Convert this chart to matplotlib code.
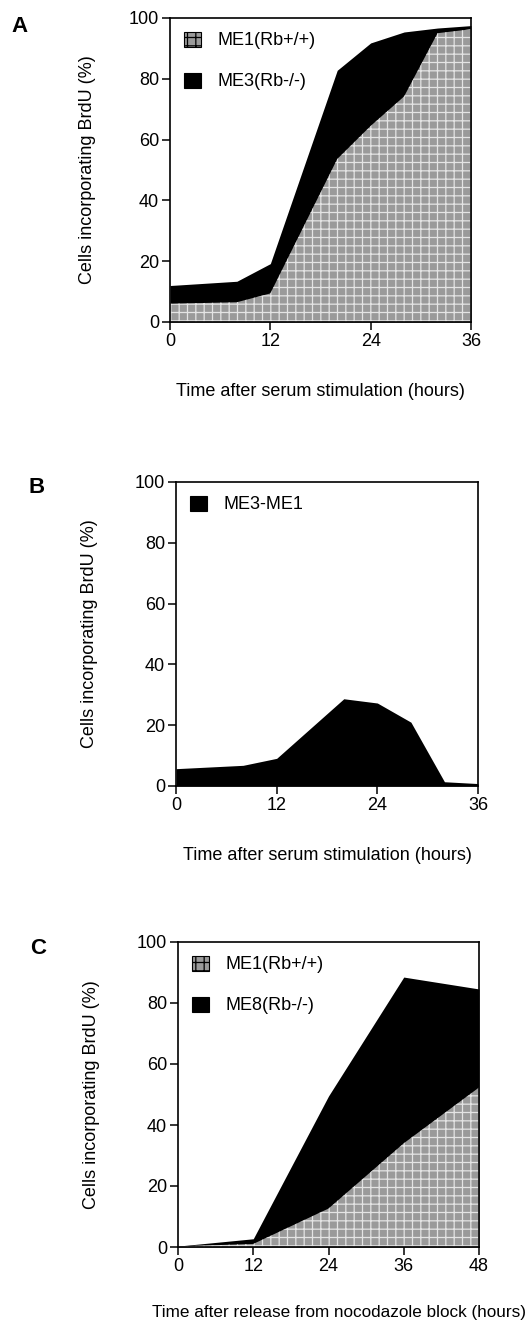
import matplotlib
matplotlib.use('Agg')
import matplotlib.pyplot as plt
from matplotlib.patches import Patch

plt.rcParams['font.family'] = ['Liberation Sans', 'DejaVu Sans']
plt.rcParams['hatch.color'] = '#e4e4e4'
plt.rcParams['hatch.linewidth'] = 0.9

# panel A / B: serum stimulation time course
hours_serum = [0, 8, 12, 20, 24, 28, 32, 36]
me1_serum = [6.0, 6.5, 9.4, 53.6, 64.5, 74.2, 95.0, 96.3]
me3_serum = [12.0, 13.4, 19.2, 82.8, 91.8, 95.4, 96.7, 97.5]
diff_serum = [5.7, 6.8, 9.1, 28.7, 27.3, 21.0, 1.4, 0.8]

# panel C: release from nocodazole block
hours_noc = [0, 12, 24, 36, 48]
me1_noc = [0.2, 1.0, 12.6, 34.0, 52.3]
me8_noc = [0.3, 2.7, 49.5, 88.5, 84.6]

GREY = '#9a9a9a'
HATCH = '++'
FS = 13

fig = plt.figure(figsize=(5.29, 13.33), dpi=100)
W, H = 529, 1333


def add_axes(left, top, right, bottom):
    return fig.add_axes([left / W, 1 - bottom / H, (right - left) / W, (bottom - top) / H])


def style(ax, xmax, xstep, ylab_x):
    ax.set_xlim(0, xmax)
    ax.set_ylim(0, 100)
    ax.set_xticks(range(0, xmax + 1, xstep))
    ax.set_yticks(range(0, 101, 20))
    ax.tick_params(direction='out', length=6, width=1.1, labelsize=FS, pad=2,
                   top=False, right=False)
    for s in ax.spines.values():
        s.set_linewidth(1.2)
    ax.set_ylabel('Cells incorporating BrdU (%)', fontsize=FS)
    ax.yaxis.set_label_coords(ylab_x, 0.5)


def grey_patch():
    return Patch(facecolor=GREY, hatch=HATCH, edgecolor='black', linewidth=0.8)


def black_patch():
    return Patch(facecolor='black', edgecolor='black', linewidth=0.8)


leg_kw = dict(loc='upper left', bbox_to_anchor=(0.0, 1.0), frameon=False, fontsize=FS,
              handlelength=0.95, handleheight=0.9, labelspacing=1.3,
              handletextpad=0.95, borderaxespad=0.0, borderpad=0.75)

# ---- A ----
axA = add_axes(170, 18, 471, 322)
axA.fill_between(hours_serum, 0, me3_serum, color='black', linewidth=0)
axA.fill_between(hours_serum, 0, me1_serum, facecolor=GREY, hatch=HATCH, linewidth=0)
style(axA, 36, 12, -0.245)
axA.legend([grey_patch(), black_patch()], ['ME1(Rb+/+)', 'ME3(Rb-/-)'], **leg_kw)
axA.text(0.5, -0.230, 'Time after serum stimulation (hours)', transform=axA.transAxes,
         ha='center', va='center', fontsize=FS)
fig.text(20 / W, 1 - 26 / H, 'A', fontsize=16, fontweight='bold', ha='center', va='center')

# ---- B ----
axB = add_axes(176, 482, 478, 786)
axB.fill_between(hours_serum, 0, diff_serum, color='black', linewidth=0)
style(axB, 36, 12, -0.258)
axB.legend([black_patch()], ['ME3-ME1'], **leg_kw)
axB.text(0.5, -0.230, 'Time after serum stimulation (hours)', transform=axB.transAxes,
         ha='center', va='center', fontsize=FS)
fig.text(37 / W, 1 - 487 / H, 'B', fontsize=16, fontweight='bold', ha='center', va='center')

# ---- C ----
axC = add_axes(178, 942, 479, 1247)
axC.fill_between(hours_noc, 0, me8_noc, color='black', linewidth=0)
axC.fill_between(hours_noc, 0, me1_noc, facecolor=GREY, hatch=HATCH, linewidth=0)
style(axC, 48, 12, -0.258)
axC.legend([grey_patch(), black_patch()], ['ME1(Rb+/+)', 'ME8(Rb-/-)'], **leg_kw)
fig.text(526 / W, 1 - 1312 / H, 'Time after release from nocodazole block (hours)',
         ha='right', va='center', fontsize=12.3)
fig.text(38 / W, 1 - 948 / H, 'C', fontsize=16, fontweight='bold', ha='center', va='center')

fig.savefig('out.png', dpi=100)
